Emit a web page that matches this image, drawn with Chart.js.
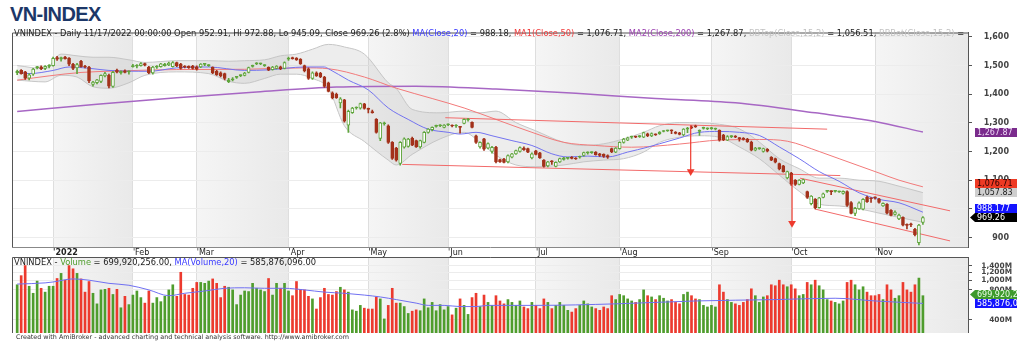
<!DOCTYPE html>
<html lang="en">
<head>
<meta charset="UTF-8">
<title>VN-INDEX</title>
<script src="https://cdn.jsdelivr.net/npm/chart.js"></script>
<style>
  body { margin: 0; background: #fff; width: 1020px; height: 341px; overflow: hidden; position: relative; }
  .title { position: absolute; left: 10px; top: 3px; font: bold 20px Arial, "Liberation Sans", sans-serif; color: #1c3768; letter-spacing: -0.6px; }
  canvas { position: absolute; left: 0; }
  #priceChart { top: 28px; }
  #volChart { top: 257px; }
  .hdr { position: absolute; font: 8.3px "DejaVu Sans", sans-serif; color: #222; white-space: nowrap; overflow: hidden; }
  #priceHdr { left: 14px; top: 28px; width: 952px; }
  #volHdr { left: 14px; top: 257px; width: 952px; }
  #footer { position: absolute; left: 16px; top: 333px; font: 6.4px "DejaVu Sans", sans-serif; color: #333; white-space: nowrap; }
  .blue { color: #3a3aff; } .red { color: #f03a3a; } .purple { color: #9b3fb0; } .grey { color: #c2c2c2; } .green { color: #4f9d2d; }
</style>
</head>
<body>
<div class="title">VN-INDEX</div>
<canvas id="priceChart" width="1020" height="230"></canvas>
<canvas id="volChart" width="1020" height="76"></canvas>
<div class="hdr" id="priceHdr">VNINDEX - Daily 11/17/2022 00:00:00 Open 952.91, Hi 972.88, Lo 945.09, Close 969.26 (2.8%) <span class="blue">MA(Close,20)</span> = 988.18, <span class="red">MA1(Close,50)</span> = 1,076.71, <span class="purple">MA2(Close,200)</span> = 1,267.87, <span class="grey">BBTop(Close,15,2)</span> = 1,056.51, <span class="grey">BBBot(Close,15,2)</span> = </div>
<div class="hdr" id="volHdr">VNINDEX - <span class="green">Volume</span> = 699,920,256.00, <span class="blue">MA(Volume,20)</span> = 585,876,096.00</div>
<div id="footer">Created with AmiBroker - advanced charting and technical analysis software. http://www.amibroker.com</div>

<script>
  // bar index 0 = 21 Dec 2021, last bar (227) = 17 Nov 2022
  const monthStart = [9, 29, 45, 68, 88, 108, 130, 151, 174, 194, 215];
  const monthLabels = ['2022', 'Feb', 'Mar', 'Apr', 'May', 'Jun', 'Jul', 'Aug', 'Sep', 'Oct', 'Nov'];
  const priceTicks = [900, 1000, 1100, 1200, 1300, 1400, 1500, 1600];
  const volTicks = [400, 800, 1000, 1200, 1400];

  const opens = [1475,1483,1478,1456,1470,1493,1496,1490,1497,1500,1528,1522,1530,1526,1504,1492,1515,1498,1495,1434,
    1440,1445,1464,1466,1427,1484,1474,1482,1478,1496,1498,1500,1507,1495,1474,1494,1496,1500,1502,1496,
    1510,1505,1496,1497,1498,1496,1495,1504,1500,1494,1480,1475,1472,1444,1450,1459,1465,1466,1476,1497,
    1506,1506,1500,1494,1486,1490,1496,1490,1522,1528,1526,1522,1500,1489,1455,1475,1473,1460,1440,1405,
    1400,1370,1380,1292,1336,1352,1351,1366,1348,1338,1312,1246,1297,1290,1232,1212,1158,1215,1218,1246,
    1238,1216,1232,1267,1276,1288,1290,1284,1293,1290,1289,1285,1298,1310,1302,1255,1216,1244,1212,1200,
    1215,1172,1174,1164,1180,1192,1200,1212,1210,1178,1202,1195,1170,1150,1165,1148,1164,1172,1176,1180,
    1177,1180,1186,1195,1196,1198,1192,1190,1186,1210,1198,1210,1232,1240,1250,1251,1252,1250,1262,1254,
    1260,1262,1270,1272,1273,1268,1265,1258,1278,1286,1290,1270,1281,1279,1280,1278,1274,1257,1240,1252,
    1253,1247,1246,1243,1233,1205,1210,1200,1208,1180,1175,1158,1150,1108,1125,1100,1085,1090,1060,1018,
    1034,1004,1040,1061,1061,1061,1059,1054,1060,1022,984,1000,999,1041,1036,1039,1035,1010,1016,995,
    980,965,970,945,946,928,882,952.91];
  const highs = [1484,1486,1480,1472,1490,1497,1499,1500,1503,1530,1532,1530,1532,1528,1508,1508,1518,1501,1497,1445,
    1452,1468,1476,1470,1480,1488,1482,1485,1482,1504,1503,1510,1509,1497,1497,1500,1508,1508,1512,1514,
    1512,1508,1500,1499,1501,1499,1507,1507,1503,1496,1483,1478,1474,1455,1458,1462,1468,1476,1495,1502,
    1510,1509,1503,1496,1497,1500,1498,1513,1530,1530,1528,1524,1502,1492,1478,1478,1476,1462,1442,1408,
    1404,1388,1382,1345,1354,1356,1369,1368,1352,1345,1315,1302,1303,1293,1235,1215,1235,1248,1246,1250,
    1240,1240,1270,1280,1286,1292,1294,1294,1297,1293,1294,1287,1314,1316,1304,1257,1234,1246,1230,1218,
    1218,1174,1176,1188,1194,1205,1216,1216,1212,1195,1204,1197,1172,1166,1168,1164,1177,1180,1179,1182,
    1179,1184,1198,1199,1199,1200,1194,1192,1188,1212,1214,1234,1246,1250,1254,1254,1256,1268,1264,1265,
    1262,1270,1273,1275,1276,1270,1267,1280,1284,1290,1292,1276,1285,1283,1284,1282,1276,1260,1256,1256,
    1256,1249,1249,1246,1236,1215,1213,1212,1210,1182,1177,1160,1152,1132,1127,1102,1102,1104,1062,1046,
    1036,1040,1055,1064,1063,1064,1062,1063,1063,1025,1005,1024,1036,1044,1039,1042,1037,1021,1018,997,
    993,982,972,948,950,932,946,972.88];
  const lows = [1468,1470,1452,1450,1466,1488,1486,1486,1492,1498,1518,1515,1522,1500,1486,1472,1494,1492,1440,1428,
    1436,1440,1460,1422,1424,1474,1470,1474,1470,1494,1492,1498,1499,1472,1470,1490,1494,1498,1500,1494,
    1496,1487,1492,1490,1487,1484,1493,1500,1497,1472,1466,1460,1450,1440,1446,1455,1461,1464,1474,1494,
    1503,1503,1497,1482,1484,1488,1486,1488,1518,1522,1518,1504,1478,1452,1452,1462,1458,1424,1408,1384,
    1385,1352,1302,1267,1333,1348,1348,1348,1335,1334,1264,1238,1292,1228,1172,1166,1152,1212,1215,1220,
    1214,1212,1230,1264,1272,1285,1287,1282,1290,1286,1284,1264,1296,1306,1282,1228,1212,1204,1209,1194,
    1160,1162,1160,1160,1178,1190,1198,1204,1196,1174,1188,1176,1145,1146,1155,1146,1162,1170,1173,1174,
    1172,1177,1184,1191,1193,1187,1183,1179,1176,1196,1196,1208,1229,1238,1246,1248,1249,1248,1252,1252,
    1256,1260,1268,1270,1262,1261,1258,1255,1266,1280,1284,1256,1278,1276,1277,1275,1236,1238,1238,1248,
    1248,1236,1240,1232,1202,1202,1207,1198,1199,1168,1160,1136,1128,1104,1082,1082,1083,1088,1036,1014,
    1000,1002,1038,1057,1049,1058,1057,1051,1008,982,976,998,996,1022,1022,1034,1020,1008,982,975,
    978,962,940,930,938,905,874,945.09];
  const closes = [1480,1472,1456,1468,1488,1494,1489,1497,1498,1525,1522,1528,1524,1505,1490,1503,1496,1494,1446,1442,
    1450,1466,1472,1428,1476,1477,1480,1476,1479,1500,1501,1507,1501,1474,1495,1498,1506,1505,1509,1510,
    1499,1490,1494,1493,1490,1487,1505,1504,1500,1474,1468,1464,1455,1450,1454,1459,1465,1474,1493,1500,
    1508,1506,1500,1484,1495,1498,1488,1510,1526,1524,1520,1506,1481,1455,1475,1464,1460,1427,1410,1387,
    1388,1384,1306,1340,1352,1352,1367,1350,1347,1336,1267,1300,1300,1232,1176,1170,1232,1244,1243,1222,
    1216,1238,1267,1278,1284,1289,1290,1292,1293,1289,1289,1284,1312,1310,1284,1232,1232,1208,1228,1215,
    1164,1164,1162,1186,1192,1203,1214,1206,1198,1192,1190,1178,1148,1164,1164,1162,1175,1178,1176,1176,
    1174,1180,1196,1196,1196,1189,1186,1183,1180,1199,1212,1232,1243,1248,1250,1250,1252,1266,1255,1263,
    1258,1268,1270,1272,1272,1263,1260,1278,1280,1282,1286,1274,1282,1280,1280,1278,1240,1241,1252,1252,
    1250,1245,1242,1234,1205,1212,1210,1210,1201,1170,1163,1139,1130,1130,1086,1085,1100,1102,1040,1044,
    1004,1038,1052,1061,1060,1061,1059,1061,1012,984,1002,1021,1033,1025,1035,1038,1022,1019,985,977,
    989,978,943,942,944,910,943,969.26];
  // volume in millions of shares
  const volumes = [900,1110,1400,870,740,980,830,760,870,870,1040,1170,1000,1400,1300,1170,1030,760,970,740,
    580,800,810,830,720,810,530,690,570,710,780,670,590,780,590,670,610,690,800,900,
    690,1200,720,710,830,950,950,930,980,1030,930,670,870,850,800,570,710,780,770,930,
    830,800,770,1040,710,930,830,930,780,700,970,810,800,690,650,515,670,830,720,710,
    770,850,800,760,505,490,560,525,515,515,680,650,410,560,830,590,590,545,465,490,
    505,495,650,530,600,495,570,505,545,450,525,650,560,455,670,740,545,710,600,560,
    700,620,580,640,600,560,620,540,520,600,560,520,650,600,520,560,600,560,500,480,
    520,560,620,580,540,520,500,540,520,700,640,720,700,650,620,600,640,800,700,680,
    640,700,660,620,640,600,580,720,760,700,650,640,560,540,560,540,900,760,640,600,
    580,560,600,640,820,700,600,680,700,900,880,1000,900,860,900,820,700,720,950,900,
    1000,880,800,640,620,600,580,620,950,1000,900,800,860,760,700,700,720,640,900,800,
    660,700,950,800,760,900,1050,699.92];

  // indicator lines read at sample bars
  const ma20Idx = [0,3,9,13,19,23,33,40,48,57,63,72,77,78,83,88,93,98,103,108,111,115,119,124,129,134,138,143,148,153,158,161,166,171,176,181,186,191,196,201,206,211,216,221,227];
  const ma20Val = [1478,1472,1483,1495,1489,1483,1480,1492,1495,1483,1485,1495,1495,1489,1449,1415,1352,1312,1278,1267,1261,1267,1255,1238,1221,1192,1181,1184,1181,1198,1215,1227,1247,1267,1270,1267,1256,1216,1175,1130,1096,1056,1033,1021,988.18];
  const ma50Idx = [0,8,16,25,40,57,72,78,87,95,104,112,120,129,137,145,154,166,176,186,193,201,206,211,216,221,227];
  const ma50Val = [1449,1464,1476,1481,1486,1487,1492,1489,1460,1421,1385,1352,1312,1267,1232,1221,1215,1226,1240,1242,1236,1200,1175,1150,1125,1100,1076.71];
  const ma200Idx = [0,20,40,60,80,100,120,140,160,180,200,215,227];
  const ma200Val = [1340,1365,1388,1408,1425,1428,1418,1403,1385,1370,1335,1305,1267.87];
  const bbIdx = [0,7,11,15,19,23,28,32,40,48,53,57,62,66,70,74,78,82,87,93,95,99,106,112,116,120,125,130,137,142,147,152,157,161,166,171,176,181,186,191,196,201,206,211,216,221,227];
  const bbTop = [1500,1489,1540,1534,1529,1529,1520,1511,1517,1517,1515,1517,1520,1534,1540,1557,1574,1565,1540,1440,1420,1347,1335,1341,1335,1341,1301,1272,1232,1221,1227,1244,1267,1290,1301,1300,1295,1279,1233,1175,1140,1107,1107,1100,1096,1079,1056.51];
  const bbBot = [1449,1443,1466,1460,1426,1421,1440,1466,1478,1472,1445,1438,1455,1470,1470,1455,1420,1290,1235,1170,1153,1190,1244,1267,1232,1187,1153,1147,1153,1164,1170,1175,1198,1232,1250,1255,1250,1216,1175,1118,1061,1016,1010,1000,985,970,953];
  const volMaIdx = [0,7,9,14,18,23,28,33,38,42,47,52,57,62,67,72,77,82,87,91,95,100,103,107,111,115,118,130,150,170,190,205,215,227];
  const volMaVal = [915,940,960,1030,1000,930,890,800,700,740,780,830,840,830,830,800,760,740,710,680,640,590,560,560,545,545,560,560,580,620,640,660,620,585.88];

  // hand drawn trend lines and arrows: [bar, price] pairs
  const trendLines = [
    [[107.3, 1318], [203, 1278]],
    [[96.5, 1155], [206.3, 1116]],
    [[196.2, 1107], [233.8, 993]],
    [[200, 999], [233.8, 888]]
  ];
  const arrows = [
    [[168.8, 1292], [168.8, 1130]],
    [[194.2, 1120], [194.2, 950]]
  ];

  const xMin = -1.3, xMax = 238.3;
  const UP = '#5fa53c', DOWN = '#a3321b';
  const VUP = '#4f9d2d', VDOWN = '#ec3a2e';
  const bars = closes.map((_, i) => i);
  const isUp = closes.map((c, i) => c >= opens[i]);
  const pts = (xs, ys) => xs.map((x, k) => ({ x: x, y: ys[k] }));

  // alternate month shading + pane frame
  const paneBg = {
    id: 'paneBg',
    beforeDraw(chart) {
      const { ctx, chartArea: a, scales: { x } } = chart;
      ctx.save();
      for (let k = 0; k < monthStart.length; k += 2) {
        const l = x.getPixelForValue(monthStart[k]);
        const r = k + 1 < monthStart.length ? x.getPixelForValue(monthStart[k + 1]) : a.right;
        const g = ctx.createLinearGradient(l, 0, r, 0);
        g.addColorStop(0, '#f5f5f5');
        g.addColorStop(1, '#e9e9e9');
        ctx.fillStyle = g;
        ctx.fillRect(l, a.top, r - l, a.bottom - a.top);
      }
      ctx.restore();
    },
    afterDraw(chart) {
      const { ctx, chartArea: a } = chart;
      ctx.save();
      ctx.strokeStyle = '#555';
      ctx.lineWidth = 1;
      ctx.beginPath();
      ctx.moveTo(a.left + 0.5, a.bottom);
      ctx.lineTo(a.left + 0.5, a.top + 0.5);
      ctx.lineTo(a.right, a.top + 0.5);
      ctx.stroke();
      ctx.restore();
    }
  };

  // value tags on the right axis
  const tagPlugin = {
    id: 'tags',
    afterDraw(chart, args, opts) {
      const { ctx, scales: { y } } = chart;
      const tags = opts.items.map(t => Object.assign({}, t, { py: y.getPixelForValue(t.value) }));
      tags.sort((p, q) => p.py - q.py);
      for (let k = tags.length - 2; k >= 0; k--) {
        if (tags[k + 1].py - tags[k].py < 9) tags[k].py = tags[k + 1].py - 9;
      }
      ctx.save();
      ctx.font = '8px "DejaVu Sans", sans-serif';
      ctx.textBaseline = 'middle';
      tags.forEach(t => {
        const top = Math.round(t.py - 4.5);
        ctx.fillStyle = t.bg;
        ctx.fillRect(975, top, 42, 9);
        if (t.arrow) {
          ctx.beginPath();
          ctx.moveTo(970, t.py);
          ctx.lineTo(975, top);
          ctx.lineTo(975, top + 9);
          ctx.closePath();
          ctx.fill();
        }
        ctx.fillStyle = t.fg;
        ctx.fillText(t.text, 977, t.py + 0.5);
      });
      ctx.restore();
    }
  };

  function xScale(showLabels) {
    return {
      type: 'linear', min: xMin, max: xMax, offset: false,
      afterBuildTicks: s => { s.ticks = monthStart.map(v => ({ value: v })); },
      ticks: {
        display: showLabels, autoSkip: false, maxRotation: 0, align: 'start', padding: 1, color: '#222',
        callback: (v, i) => "'" + monthLabels[i],
        font: c => ({ family: '"DejaVu Sans", sans-serif', size: 8, weight: c.index === 0 ? 'bold' : 'normal' })
      },
      grid: { color: '#dedede', offset: false, drawTicks: false },
      border: { display: showLabels, color: '#888' },
      afterFit: s => { s.height = showLabels ? 11 : 0; s.paddingLeft = 0; s.paddingRight = 0; }
    };
  }

  function yScale(extra, axisWidth) {
    return Object.assign({
      position: 'right',
      grid: { color: '#ececec', tickColor: '#555', tickLength: 4 },
      border: { color: '#555' },
      afterFit: s => { s.width = axisWidth; s.paddingTop = 0; s.paddingBottom = 0; }
    }, extra);
  }

  const lineDs = (data, color, width, order, extra) => Object.assign({
    type: 'line', data: data, borderColor: color, borderWidth: width, pointRadius: 0,
    cubicInterpolationMode: 'monotone', order: order
  }, extra || {});

  const priceSets = [
    lineDs(pts(bbIdx, bbTop), '#c6c6c6', 1, 20, { fill: '+1', backgroundColor: 'rgba(190,190,190,0.28)' }),
    lineDs(pts(bbIdx, bbBot), '#c6c6c6', 1, 19),
    lineDs(pts(ma200Idx, ma200Val), '#a767c4', 1.5, 18),
    lineDs(pts(ma50Idx, ma50Val), '#f27a7a', 1, 17)
  ];
  trendLines.forEach(l => priceSets.push(lineDs(l.map(p => ({ x: p[0], y: p[1] })), '#f26a6a', 1, 16, { cubicInterpolationMode: 'default' })));
  priceSets.push(lineDs(pts(ma20Idx, ma20Val), '#7373f0', 1, 10));
  priceSets.push({
    type: 'bar', data: bars.map(i => ({ x: i, y: [lows[i], highs[i]] })),
    backgroundColor: c => isUp[c.dataIndex] ? UP : DOWN,
    barThickness: 1, grouped: false, order: 5
  });
  priceSets.push({
    type: 'bar', data: bars.map(i => ({ x: i, y: [opens[i], closes[i]] })),
    backgroundColor: c => {
      const i = c.dataIndex;
      return isUp[i] && closes[i] - opens[i] >= 7 ? '#fff' : (isUp[i] ? UP : DOWN);
    },
    borderColor: c => isUp[c.dataIndex] ? UP : DOWN,
    borderWidth: 1, borderSkipped: false, barThickness: 3, minBarLength: 1, grouped: false, order: 4
  });
  arrows.forEach(a => priceSets.push(lineDs(a.map(p => ({ x: p[0], y: p[1] })), '#ee3a2e', 1.2, 1, {
    cubicInterpolationMode: 'default', pointRadius: [0, 4.5], pointStyle: 'triangle', rotation: 180,
    pointBackgroundColor: '#ee3a2e', pointBorderWidth: 0
  })));

  new Chart(document.getElementById('priceChart'), {
    type: 'bar',
    data: { datasets: priceSets },
    options: {
      responsive: false, animation: false,
      layout: { padding: { left: 12, right: 11, top: 0, bottom: 0 } },
      plugins: {
        legend: { display: false }, tooltip: { enabled: false },
        tags: { items: [
          { value: 1267.87, text: '1,267.87', bg: '#7a2b8c', fg: '#ecd6f4' },
          { value: 1076.71, text: '1,076.71', bg: '#ee3a24', fg: '#2a0000' },
          { value: 1057.83, text: '1,057.83', bg: '#cfcfcf', fg: '#222' },
          { value: 988.177, text: '988.177', bg: '#1414ff', fg: '#fff' },
          { value: 969.26, text: '969.26', bg: '#000', fg: '#fff', arrow: true }
        ] }
      },
      scales: {
        x: xScale(true),
        y: yScale({
          type: 'linear', min: 866.7, max: 1615.4,
          afterBuildTicks: s => { s.ticks = priceTicks.map(v => ({ value: v })); },
          ticks: { color: '#444', crossAlign: 'far', font: { family: '"DejaVu Sans", sans-serif', size: 8, weight: 'bold' },
            callback: v => v.toLocaleString('en-US') }
        }, 41)
      }
    },
    plugins: [paneBg, tagPlugin]
  });

  new Chart(document.getElementById('volChart'), {
    type: 'bar',
    data: { datasets: [
      lineDs(pts(volMaIdx, volMaVal), '#7070f2', 1, 0),
      { type: 'bar', data: bars.map(i => ({ x: i, y: volumes[i] })),
        backgroundColor: c => isUp[c.dataIndex] ? VUP : VDOWN, barThickness: 2, grouped: false, order: 1 }
    ] },
    options: {
      responsive: false, animation: false,
      layout: { padding: { left: 12, right: 8, top: 0, bottom: 0 } },
      plugins: {
        legend: { display: false }, tooltip: { enabled: false },
        tags: { items: [
          { value: 699.920256, text: '699,920,256', bg: '#3d9a2c', fg: '#eaffea', arrow: true },
          { value: 585.876096, text: '585,876,096', bg: '#1414ff', fg: '#fff' }
        ] }
      },
      scales: {
        x: xScale(false),
        y: yScale({
          type: 'logarithmic', min: 296.5, max: 1706,
          afterBuildTicks: s => { s.ticks = volTicks.map(v => ({ value: v })); },
          ticks: { color: '#444', crossAlign: 'far', font: { family: '"DejaVu Sans", sans-serif', size: 7.4, weight: 'bold' },
            callback: v => v.toLocaleString('en-US') + 'M' }
        }, 44)
      }
    },
    plugins: [paneBg, tagPlugin]
  });
</script>
</body>
</html>
